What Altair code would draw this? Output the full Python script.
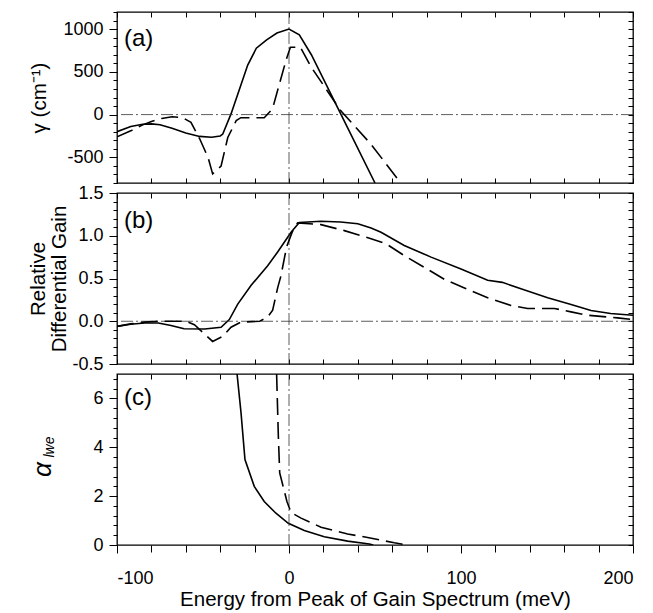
import altair as alt
import pandas as pd

# ---------------- data ----------------
# Panel (a): gamma (cm^-1)
a_solid_x = [-100, -92, -85, -80, -75, -68, -60, -52, -45, -40, -38.5, -33.7, -29, -24, -19, -13, -7, 0, 6, 13, 30, 50]
a_solid_y = [-200, -140, -112, -108, -118, -160, -215, -255, -265, -250, -228, 8, 284, 579, 776, 875, 954, 1000, 934, 700, 12, -800]
a_dash_x = [-100, -92, -85, -80, -74, -68, -62, -57, -52, -47, -44.4, -39.5, -35.6, -30.7, -28, -14.4, -9.6, -6.6, -1.7, 0.8, 6.6, 12.8, 30, 47.7, 65]
a_dash_y = [-260, -190, -120, -80, -45, -25, -35, -90, -280, -504, -693, -603, -268, -71, -36, -36, 67, 284, 638, 788, 788, 559, 47, -347, -800]

# Panel (b): relative differential gain
b_solid_x = [-100, -92, -84, -76, -68.6, -61, -49, -39.5, -34.7, -29.8, -22, -12.4, -6.6, 1.2, 6, 18.6, 30, 40, 47.7, 53.5, 67, 82.6, 100, 115.5, 124, 137, 150.4, 164, 175.6, 187, 200]
b_solid_y = [-0.06, -0.035, -0.02, -0.02, -0.05, -0.087, -0.09, -0.07, 0.02, 0.2, 0.42, 0.65, 0.81, 1.04, 1.155, 1.17, 1.16, 1.14, 1.09, 1.04, 0.887, 0.75, 0.61, 0.48, 0.455, 0.366, 0.276, 0.197, 0.126, 0.09, 0.07]
b_dash_x = [-100, -92, -84, -76, -60, -55, -44.4, -38.6, -33.7, -28, -17, -12.4, -9.5, -6.6, -4.7, -1.4, 2, 5, 18.6, 32.2, 47.7, 56.4, 67, 78.7, 90.3, 102, 115.5, 129, 138.8, 154.3, 164, 173.6, 191, 200]
b_dash_y = [-0.06, -0.03, -0.01, 0, 0, -0.04, -0.236, -0.177, -0.07, -0.01, 0, 0.05, 0.13, 0.39, 0.53, 0.87, 1.05, 1.15, 1.13, 1.06, 0.966, 0.906, 0.768, 0.63, 0.49, 0.39, 0.276, 0.185, 0.15, 0.15, 0.11, 0.07, 0.04, 0.02]

# Panel (c): alpha_lwe
c_solid_x = [-30.2, -27.9, -25.6, -20.2, -14.4, -7.6, -0.4, 8.9, 20.5, 34.1, 46.7, 49]
c_solid_y = [7, 5.42, 3.5, 2.4, 1.78, 1.3, 0.89, 0.59, 0.34, 0.16, 0.04, 0]
c_dash_x = [-7.2, -6.2, -5.4, -1.2, 1.2, 7, 18.6, 34.1, 45.7, 61.2, 69]
c_dash_y = [7, 4.46, 2.95, 1.78, 1.33, 1.1, 0.73, 0.45, 0.31, 0.09, 0]

panel_labels = ["(a)", "(b)", "(c)"]
x_title = "Energy from Peak of Gain Spectrum (meV)"
y_titles = ["γ (cm⁻¹)", ["Relative", "Differential Gain"], "α"]
alpha_sub = "lwe"

FONT = "Liberation Sans"
W, H = 516, 171
LW = 1.6
DASH = [17, 7]
REF_DASH = [12, 3, 2, 3]
LABEL_FS = 18
TITLE_FS = 20.5


def ticks(lo, hi, step):
    n = int(round((hi - lo) / step))
    return [round(lo + i * step, 6) for i in range(n + 1)]


def major_test(step):
    return f"abs(datum.value/{step} - round(datum.value/{step})) < 1e-6"


x_ticks = ticks(-100, 200, 20)
x_major = major_test(100)

common_axis = dict(
    domain=False, grid=False, tickColor="black", tickWidth=1,
    labelFont=FONT, labelFontSize=LABEL_FS, labelColor="black",
    titleFont=FONT, titleFontSize=TITLE_FS, titleFontWeight="normal", titleColor="black",
)


def df(xs, ys):
    return pd.DataFrame({"x": xs, "y": ys})


def panel(idx, sx, sy, dx, dy, ydom, ystep, ymajor, yfmt, ytitle, bottom_labels,
          hzero=True, title_x=-78):
    xs = alt.Scale(domain=[-100, 200], nice=False, zero=False)
    ys = alt.Scale(domain=ydom, nice=False, zero=False)
    yt = ticks(ydom[0], ydom[1], ystep)
    ytest = major_test(ymajor)

    if bottom_labels:
        x_axis = alt.Axis(
            orient="bottom", values=x_ticks,
            tickSize={"condition": {"test": x_major, "value": 8}, "value": 7},
            labelExpr=f"{x_major} ? replace(format(datum.value, 'd'), '−', '-') : ''",
            labelPadding=16, labelOverlap=False, title=x_title, titlePadding=2,
            **common_axis,
        )
    else:
        x_axis = alt.Axis(
            orient="bottom", values=x_ticks,
            tickSize=5, offset=-5, labels=False, title=None, **common_axis,
        )

    y_axis_kwargs = dict(
        orient="left", values=yt,
        tickSize={"condition": {"test": ytest, "value": 8}, "value": 4},
        labelExpr=f"{ytest} ? replace(format(datum.value, '{yfmt}'), '−', '-') : ''",
        labelPadding=6, labelOverlap=False, title=ytitle, titleX=title_x, titleY=H / 2,
        titleAngle=270, titleAlign="center", titleBaseline="middle", titleLineHeight=21,
        **common_axis,
    )
    if idx == 2:
        y_axis_kwargs.update(titleFontStyle="italic", titleFontSize=26, titleY=95)
    y_axis = alt.Axis(**y_axis_kwargs)

    base_solid = alt.Chart(df(sx, sy))
    lines = base_solid.mark_line(color="black", strokeWidth=LW, clip=True).encode(
        x=alt.X("x:Q", scale=xs, axis=x_axis),
        y=alt.Y("y:Q", scale=ys, axis=y_axis),
    )
    mirror = base_solid.mark_line(opacity=0).encode(
        x=alt.X("x:Q", scale=xs, axis=alt.Axis(
            orient="top", values=x_ticks, tickSize=5, offset=-5,
            labels=False, title=None, **common_axis)),
        y=alt.Y("y:Q", scale=ys, axis=alt.Axis(
            orient="right", values=yt, tickSize=5, offset=-5,
            labels=False, title=None, **common_axis)),
    )
    dashed = alt.Chart(df(dx, dy)).mark_line(
        color="black", strokeWidth=LW, strokeDash=DASH, clip=True
    ).encode(x=alt.X("x:Q", scale=xs, axis=None), y=alt.Y("y:Q", scale=ys, axis=None))

    vref = alt.Chart(pd.DataFrame({"v": [0]})).mark_rule(
        color="#333", strokeWidth=0.8, strokeDash=REF_DASH
    ).encode(x=alt.X("v:Q", scale=xs, axis=None))
    layers = [vref]
    if hzero:
        href = alt.Chart(pd.DataFrame({"v": [0]})).mark_rule(
            color="#333", strokeWidth=0.8, strokeDash=REF_DASH
        ).encode(y=alt.Y("v:Q", scale=ys, axis=None))
        layers.append(href)

    lab = alt.Chart(pd.DataFrame({"t": [panel_labels[idx]]})).mark_text(
        align="left", baseline="middle", font=FONT, fontSize=24, color="black"
    ).encode(text="t:N", x=alt.value(7), y=alt.value([27, 28, 24][idx]))

    parts = [lines, mirror] + layers + [dashed, lab]
    if idx == 2:
        sub = alt.Chart(pd.DataFrame({"t": [alpha_sub]})).mark_text(
            align="center", baseline="middle", font=FONT, fontSize=14,
            fontStyle="italic", angle=270, color="black"
        ).encode(text="t:N", x=alt.value(-67), y=alt.value(73))
        parts.append(sub)

    return alt.layer(*parts).resolve_axis(x="independent", y="independent").properties(
        width=W, height=H
    )


pa = panel(0, a_solid_x, a_solid_y, a_dash_x, a_dash_y, [-800, 1200], 100, 500, "d",
           y_titles[0], False, title_x=-78)
pb = panel(1, b_solid_x, b_solid_y, b_dash_x, b_dash_y, [-0.5, 1.5], 0.1, 0.5, ".1f",
           y_titles[1], False, title_x=-79)
pc = panel(2, c_solid_x, c_solid_y, c_dash_x, c_dash_y, [0, 7], 0.4, 2, "d",
           y_titles[2], True, hzero=False, title_x=-75)

chart = alt.vconcat(pa, pb, pc, spacing=10, bounds="flush").properties(
    padding={"left": 27, "top": 2, "right": 5, "bottom": 5},
    background="white",
).configure_view(
    stroke="black", strokeWidth=1.3
)

chart.save("out.html", embed_options={"renderer": "svg", "actions": False})
